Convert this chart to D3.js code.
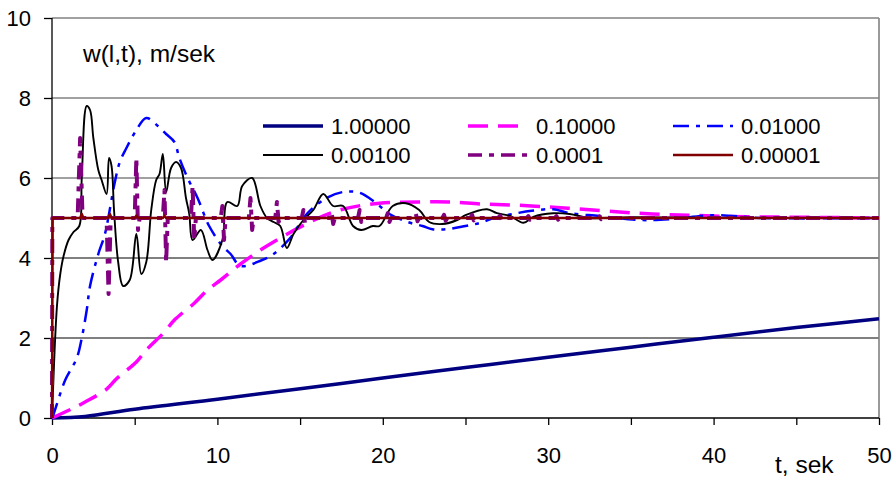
<!DOCTYPE html>
<html>
<head>
<script src="https://d3js.org/d3.v7.min.js"></script>
<style>
  body { margin: 0; background: #fff; }
  text { font-family: "Liberation Sans", Arial, sans-serif; }
</style>
</head>
<body>
<script>
// series values, [t, w] pairs
var s1 = [[0,0],[2,0.04],[5,0.22],[10,0.47],[15,0.73],[20,1.0],[25,1.26],[30,1.52],[35,1.77],[40,2.02],[45,2.26],[50,2.48]]
var s01 = [[0,0],[1.3,0.25],[2,0.4],[3.3,0.72],[3.9,0.98],[5.1,1.4],[5.7,1.7],[6.8,2.15],[7.4,2.45],[8.6,2.87],[9.4,3.2],[10.2,3.45],
    [11.4,3.85],[12.6,4.2],[13.8,4.5],[15.5,4.88],[17.4,5.2],[19.8,5.37],[22.2,5.4],[24,5.4],[26,5.35],[28.1,5.32],[30.3,5.27],
    [32.1,5.22],[34.3,5.15],[36.3,5.1],[38.5,5.07],[42,5.03],[45,5.02],[50,5.0]]
var s001 = [[0,0],[0.1,0.1],[0.8,0.95],[1.5,1.5],[1.8,2.0],[2.1,2.7],[2.3,3.3],[2.8,4.1],[3.2,4.6],[3.8,5.9],[4.1,6.4],[4.5,6.75],
    [5.1,7.2],[5.7,7.5],[6.4,7.3],[6.9,7.1],[7.4,6.9],[7.7,6.5],[8.2,6.0],[8.8,5.5],[9.5,4.8],[10.3,4.3],[10.8,4.1],[11.4,3.8],
    [12.7,3.95],[13.4,4.1],[14.4,4.5],[15.4,5.1],[16.6,5.5],[17.6,5.65],[18.6,5.63],[19.6,5.37],[20.4,5.1],[21.5,4.9],[22.4,4.8],
    [23,4.72],[23.9,4.72],[25,4.8],[25.9,4.88],[26.7,5.0],[28.1,5.12],[29,5.18],[30.3,5.22],[31.3,5.12],[33.1,5.05],[35.5,4.95],
    [37.4,4.97],[40,5.07],[43,5.0],[50,5.0]]
var s0001 = [[0,0],[0.3,2.8],[0.5,3.6],[0.7,4.05],[1.0,4.45],[1.3,4.65],[1.65,4.8],[1.8,6.0],[2.1,7.8],[2.3,7.7],[2.5,7.0],[2.8,6.2],
    [3.0,5.95],[3.3,5.6],[3.45,6.5],[3.6,6.3],[3.75,5.2],[4.0,3.9],[4.3,3.3],[4.7,3.45],[5.1,4.6],[5.4,3.6],[5.7,3.9],[6.0,5.2],
    [6.3,5.95],[6.5,6.1],[6.7,6.6],[6.9,5.65],[7.2,6.25],[7.5,6.4],[7.8,6.25],[8.1,5.5],[8.3,5.1],[8.5,4.45],[9.0,4.7],[9.4,4.2],
    [9.7,3.95],[10.3,4.45],[10.6,5.4],[11.2,5.3],[11.5,5.8],[12.1,6.0],[12.6,5.3],[13.0,5.0],[13.4,4.9],[13.8,4.8],[14.2,4.25],
    [14.6,4.6],[15.2,4.95],[15.8,5.2],[16.4,5.6],[17,5.3],[17.6,5.3],[18.2,4.8],[18.7,4.7],[19.4,4.8],[19.8,4.8],[20.6,5.3],
    [21.4,5.37],[22.2,5.2],[22.8,4.9],[23.6,4.85],[24.5,4.95],[25,5.07],[26.3,5.22],[26.9,5.12],[27.7,5.05],[28.5,4.88],[29.1,5.03],
    [30.3,5.12],[31.3,5.1],[32.5,5.0],[35,5.02],[40,5.0],[50,5.0]]
var s00001 = [[0,0],[0.02,5],[1.55,5],[1.7,7.0],[1.85,5],[3.3,5],[3.42,3.1],[3.55,5],[5.0,5],[5.1,6.5],[5.2,4.7],[5.3,5],
    [6.7,5],[6.8,5.7],[6.9,3.9],[7.0,5],[8.4,5],[8.5,5.8],[8.6,4.45],[8.7,5],[10.2,5],[10.3,5.3],[10.4,4.45],[10.5,5],
    [11.9,5],[12.0,5.5],[12.1,4.7],[12.2,5],[13.5,5],[13.6,5.4],[13.7,4.9],[13.8,5],[15.1,5],[15.2,5.2],[15.3,4.85],[15.4,5],
    [16.8,5],[16.9,5.15],[17.0,4.85],[17.1,5],[18.5,5],[18.6,5.2],[18.7,4.9],[18.8,5],[20.2,5],[20.3,5.12],[20.4,4.9],[20.5,5],
    [21.9,5],[22.0,5.1],[22.1,4.92],[22.2,5],[23.6,5],[23.7,5.08],[23.8,4.93],[23.9,5],[25.3,5],[25.4,5.08],[25.5,4.94],[25.6,5],
    [27.0,5],[27.1,5.06],[27.2,4.95],[27.3,5],[28.7,5],[28.8,5.05],[28.9,4.96],[29.0,5],[30.4,5],[30.5,5.05],[30.6,4.96],[30.7,5],
    [33.0,5],[33.1,5.04],[33.2,4.97],[33.3,5],[50,5]]
var s000001 = [[0,0],[0.04,5],[1.7,5],[1.8,5.1],[1.9,5],[3.4,5],[3.5,5.1],[3.6,5],[5.0,5],[5.1,5.06],[5.2,5],[6.7,5],[6.8,5.06],[6.9,5],[50,5]]

var names = ['1.00000','0.10000','0.01000','0.00100','0.0001','0.00001']
var xTicks = [0,5,10,15,20,25,30,35,40,45,50]
var xLabels = [0,10,20,30,40,50]
var yTicks = [0,2,4,6,8,10]

var series = [
    {name: names[0], data: s1, color: '#000080', width: 3.5, dash: null, smooth: true},
    {name: names[1], data: s01, color: '#ff00ff', width: 3.5, dash: '20,10', smooth: true},
    {name: names[2], data: s001, color: '#0000ff', width: 2.5, dash: '16,7,4,7', smooth: true},
    {name: names[3], data: s0001, color: '#000000', width: 1.9, dash: null, smooth: true},
    {name: names[4], data: s00001, color: '#800080', width: 4, dash: '14,7,5,7', smooth: false},
    {name: names[5], data: s000001, color: '#800000', width: 2.5, dash: null, smooth: false}
]

var w = 896, h = 481
var svg = d3.select('body').append('svg').attr('width', w).attr('height', h)

var x = d3.scaleLinear().domain([0, 50]).range([52, 879])
var y = d3.scaleLinear().domain([0, 10]).range([418, 18])

// grid
svg.append('g').selectAll('line')
    .data(yTicks.filter(function(d){ return d > 0 }))
    .join('line')
    .attr('x1', x(0)).attr('x2', x(50))
    .attr('y1', function(d){ return y(d) }).attr('y2', function(d){ return y(d) })
    .attr('stroke', function(d){ return d <= 4 ? '#000' : '#808080' })
    .attr('stroke-width', function(d){ return d <= 4 ? 1 : 1.6 })

svg.append('line')
    .attr('x1', x(50)).attr('x2', x(50)).attr('y1', y(0)).attr('y2', y(10))
    .attr('stroke', '#808080').attr('stroke-width', 1.6)

// axes
var xAxis = d3.axisBottom(x).tickValues(xTicks).tickSize(7).tickPadding(22)
    .tickFormat(function(d){ return xLabels.indexOf(d) >= 0 ? d : '' })
var gx = svg.append('g').attr('transform', 'translate(0,' + y(0) + ')').call(xAxis)

var yAxis = d3.axisLeft(y).tickValues(yTicks).tickSize(8).tickPadding(13)
var gy = svg.append('g').attr('transform', 'translate(' + x(0) + ',0)').call(yAxis)

;[gx, gy].forEach(function(g){
    g.select('.domain').attr('stroke', '#000').attr('stroke-width', 1.3)
    g.selectAll('.tick line').attr('stroke', '#000').attr('stroke-width', 1.3)
    g.selectAll('.tick text').attr('font-size', 22).attr('fill', '#000')
        .style('font-family', '"Liberation Sans", Arial, sans-serif')
})
gy.select('.domain').attr('d', 'M0,' + y(0) + 'V' + y(10))
gx.select('.domain').attr('d', 'M' + x(0) + ',0H' + x(50))

// lines
var line = d3.line()
    .x(function(d){ return x(d[0]) })
    .y(function(d){ return y(d[1]) })

series.forEach(function(s){
    line.curve(s.smooth ? d3.curveCatmullRom.alpha(0.5) : d3.curveLinear)
    svg.append('path')
        .attr('d', line(s.data))
        .attr('fill', 'none')
        .attr('stroke', s.color)
        .attr('stroke-width', s.width)
        .attr('stroke-dasharray', s.dash)
        .attr('stroke-linejoin', 'round')
})

// legend
var legX = [263, 468, 673]
var legY = [126, 155]
var leg = svg.append('g').selectAll('g')
    .data(series)
    .join('g')
    .attr('transform', function(d, i){ return 'translate(' + legX[i % 3] + ',' + legY[Math.floor(i / 3)] + ')' })
leg.append('line')
    .attr('x1', 0).attr('x2', 60).attr('y1', 0).attr('y2', 0)
    .attr('stroke', function(d){ return d.color })
    .attr('stroke-width', function(d){ return Math.min(d.width, 3.5) })
    .attr('stroke-dasharray', function(d){ return d.dash })
leg.append('text')
    .attr('x', 68).attr('y', 8)
    .attr('font-size', 22)
    .text(function(d){ return d.name })

// axis titles
svg.append('text').attr('x', 83).attr('y', 62).attr('font-size', 24.5).text('w(l,t), m/sek')
svg.append('text').attr('x', 775).attr('y', 473).attr('font-size', 24.5).text('t, sek')
</script>
</body>
</html>
